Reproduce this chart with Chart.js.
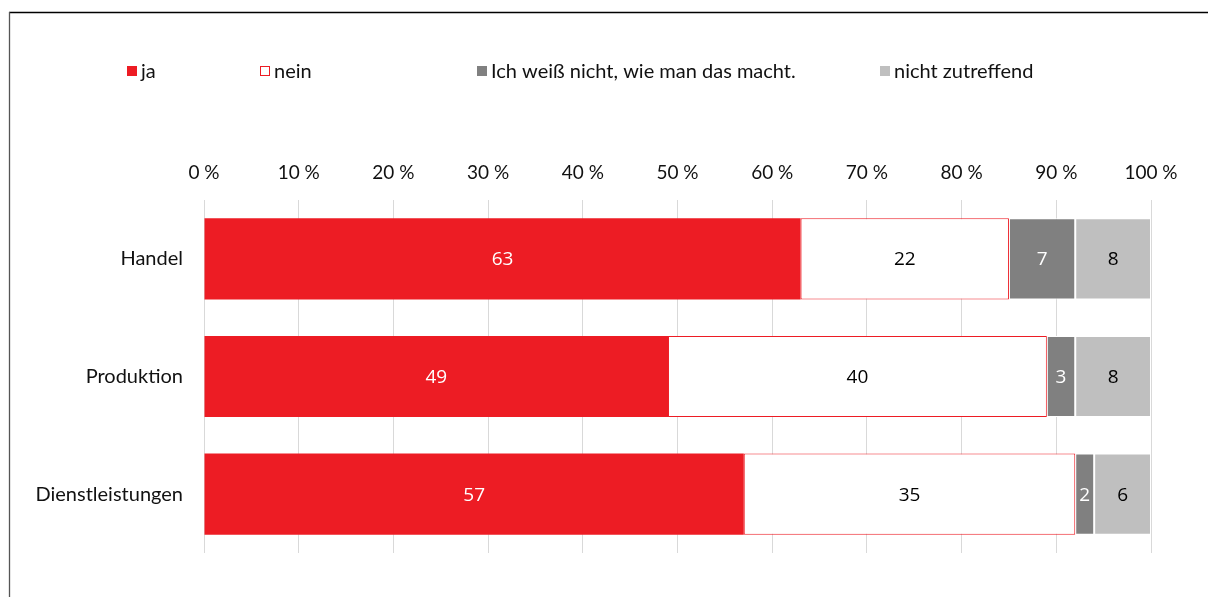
<!DOCTYPE html>
<html>
<head>
<meta charset="utf-8">
<script src="https://cdn.jsdelivr.net/npm/chart.js@4.4.1/dist/chart.umd.min.js"></script>
<style>
  html, body { margin: 0; padding: 0; background: #ffffff; }
  #wrap { position: relative; width: 1208px; height: 597px; }
</style>
</head>
<body>
<div id="wrap"><canvas id="c" width="1208" height="597"></canvas></div>
<script>
// ---- data ----
const categories = ['Handel', 'Produktion', 'Dienstleistungen'];
const seriesNames = ['ja', 'nein', 'Ich weiß nicht, wie man das macht.', 'nicht zutreffend'];
const jaValues = [63, 49, 57];
const neinValues = [22, 40, 35];
const weissNichtValues = [7, 3, 2];
const nichtZutreffendValues = [8, 8, 6];
const tickSuffix = ' %';

// ---- styles ----
const FONT = 'Lato, "Open Sans", "DejaVu Sans", sans-serif';
const VALUE_FONT = '"Open Sans", "Noto Sans", sans-serif';
const RED = '#ed1c24';
const DARK = '#808080';
const LIGHT = '#bfbfbf';

const legendXs = [127, 260, 477, 880];
const legendY = 71;

const bgAndFrame = {
  id: 'bgAndFrame',
  beforeDraw(chart) {
    const ctx = chart.ctx;
    ctx.save();
    ctx.fillStyle = '#ffffff';
    ctx.fillRect(0, 0, chart.width, chart.height);
    ctx.strokeStyle = '#000000';
    ctx.lineWidth = 1.5;
    ctx.beginPath();
    ctx.moveTo(9, 12.5);
    ctx.lineTo(chart.width, 12.5);
    ctx.stroke();
    ctx.strokeStyle = '#555555';
    ctx.lineWidth = 1.3;
    ctx.beginPath();
    ctx.moveTo(9.5, 12);
    ctx.lineTo(9.5, chart.height);
    ctx.stroke();
    ctx.restore();
  }
};

const customLegend = {
  id: 'customLegend',
  afterDraw(chart) {
    const ctx = chart.ctx;
    ctx.save();
    ctx.font = '20px ' + FONT;
    ctx.textBaseline = 'middle';
    ctx.textAlign = 'left';
    chart.data.datasets.forEach((ds, i) => {
      const x = legendXs[i];
      const s = 10;
      const y = legendY - s / 2;
      if (ds.legendOutline) {
        ctx.fillStyle = '#ffffff';
        ctx.fillRect(x, y, s, s);
        ctx.strokeStyle = ds.borderColor;
        ctx.lineWidth = 1;
        ctx.strokeRect(x + 0.5, y + 0.5, s - 1, s - 1);
      } else {
        ctx.fillStyle = ds.backgroundColor;
        ctx.fillRect(x, y, s, s);
      }
      ctx.fillStyle = '#111111';
      ctx.fillText(ds.label, x + s + 4, legendY + 1);
    });
    ctx.restore();
  }
};

const valueLabels = {
  id: 'valueLabels',
  afterDatasetsDraw(chart) {
    const ctx = chart.ctx;
    ctx.save();
    ctx.font = '19px ' + VALUE_FONT;
    ctx.textAlign = 'center';
    ctx.textBaseline = 'middle';
    chart.data.datasets.forEach((ds, di) => {
      const meta = chart.getDatasetMeta(di);
      meta.data.forEach((el, i) => {
        const v = ds.data[i];
        const cx = (el.x + el.base) / 2;
        ctx.fillStyle = ds.labelColor;
        ctx.fillText(String(v), cx, el.y + 1);
      });
    });
    ctx.restore();
  }
};

new Chart(document.getElementById('c'), {
  type: 'bar',
  data: {
    labels: categories,
    datasets: [
      { label: seriesNames[0], data: jaValues, backgroundColor: RED, borderWidth: 0, labelColor: '#ffffff' },
      { label: seriesNames[1], data: neinValues, backgroundColor: '#ffffff', borderColor: RED, borderWidth: 1, borderSkipped: false, labelColor: '#000000', legendOutline: true },
      { label: seriesNames[2], data: weissNichtValues, backgroundColor: DARK, borderColor: '#ffffff', borderWidth: 1, borderSkipped: false, labelColor: '#ffffff' },
      { label: seriesNames[3], data: nichtZutreffendValues, backgroundColor: LIGHT, borderColor: '#ffffff', borderWidth: 1, borderSkipped: false, labelColor: '#000000' }
    ]
  },
  options: {
    indexAxis: 'y',
    responsive: false,
    animation: false,
    devicePixelRatio: 1,
    layout: { padding: { left: 9, right: 57, top: 140, bottom: 44 } },
    datasets: { bar: { barPercentage: 0.69, categoryPercentage: 1 } },
    plugins: {
      legend: { display: false },
      tooltip: { enabled: false },
      title: { display: false }
    },
    scales: {
      x: {
        position: 'top',
        stacked: true,
        min: 0,
        max: 100,
        ticks: {
          stepSize: 10,
          padding: 16,
          color: '#111111',
          font: { family: FONT, size: 19 },
          callback: (v) => v + tickSuffix
        },
        grid: { color: '#d9d9d9', lineWidth: 1, drawTicks: false },
        border: { display: false },
        afterFit(scale) { scale.height = 60; }
      },
      y: {
        stacked: true,
        ticks: {
          padding: 21,
          color: '#111111',
          font: { family: FONT, size: 20 }
        },
        grid: { display: false, drawTicks: false },
        border: { display: false },
        afterFit(scale) { scale.width = 195; }
      }
    }
  },
  plugins: [bgAndFrame, customLegend, valueLabels]
});
</script>
</body>
</html>
